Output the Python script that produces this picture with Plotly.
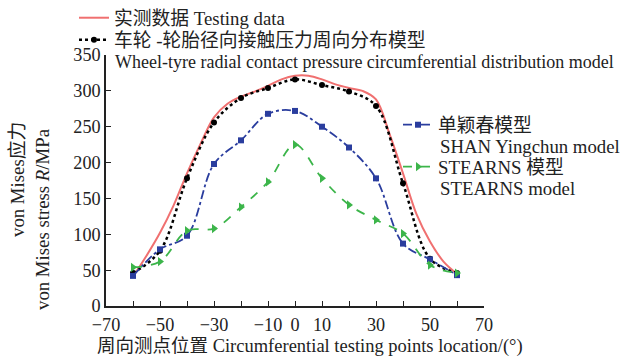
import plotly.graph_objects as go

# ---- data ----
pts_x = [-60, -50, -40, -30, -20, -10, 0, 10, 20, 30, 40, 50, 60]
model_y = [46, 77, 178, 256, 290, 304, 316, 308, 299, 279, 171, 66, 46]
shan_y = [42, 79, 98, 198, 231, 268, 272, 250, 221, 178, 87, 65, 43]
stearns_y = [54, 62, 105, 108, 138, 173, 225, 178, 141, 120, 101, 57, 46]

test_x = [-60, -55, -50, -45, -40, -35, -30, -25, -20, -15, -10, -5, 0, 5, 10, 15, 20, 25, 30, 35, 40, 45, 50, 55, 60]
test_y = [41, 70, 102, 140, 185, 226, 263, 282, 292, 299, 307, 316, 321, 321, 316, 309, 304, 300, 288, 240, 185, 128, 90, 62, 45]

x_tickvals = list(range(-70, 71, 10))
x_labeled = [-70, -50, -30, -10, 0, 10, 30, 50, 70]
x_ticktext = [str(v).replace("-", "\u2212") if v in x_labeled else "" for v in x_tickvals]
y_tickvals = list(range(0, 351, 50))

names = ["实测数据 Testing data", "车轮 -轮胎径向接触压力周向分布模型", "单颖春模型", "STEARNS 模型"]
second_lines = ["Wheel-tyre radial contact pressure circumferential distribution model",
                "SHAN Yingchun model", "STEARNS model"]

# ---- layout geometry (pixels) ----
W, H = 633, 358
L, R, T, B = 106, 484, 55, 306


def px(xp):
    return (xp - L) / (R - L)


def py(yp):
    return (B - yp) / (B - T)


FONT = "Liberation Serif, Times New Roman, Noto Sans CJK SC, serif"
FS = 18.8
TFS = 18.2
C = "#222"

fig = go.Figure()

fig.add_trace(go.Scatter(
    x=test_x, y=test_y, mode="lines", line=dict(color="#f07070", width=2, shape="spline"),
    name=names[0], legend="legend"))
fig.add_trace(go.Scatter(
    x=pts_x, y=model_y, mode="lines+markers",
    line=dict(color="black", width=2.5, dash="dot", shape="spline"),
    marker=dict(symbol="circle", size=6, color="black"),
    name=names[1], legend="legend2"))
fig.add_trace(go.Scatter(
    x=pts_x, y=shan_y, mode="lines+markers",
    line=dict(color="#2a3d9e", width=1.8, dash="dashdot", shape="spline"),
    marker=dict(symbol="square", size=6, color="#2a3d9e"),
    name=names[2], legend="legend3"))
fig.add_trace(go.Scatter(
    x=pts_x, y=stearns_y, mode="lines+markers",
    line=dict(color="#3cb54a", width=1.8, dash="dash", shape="spline"),
    marker=dict(symbol="triangle-right", size=8, color="#3cb54a"),
    name=names[3], legend="legend4"))

axis_common = dict(
    showline=True, linecolor=C, linewidth=1.5, ticks="inside", ticklen=5,
    tickcolor=C, tickwidth=1.2, showgrid=False, zeroline=False,
    tickfont=dict(family=FONT, size=TFS, color=C), mirror=False, automargin=False,
)


def leg(xp, yp):
    return dict(x=px(xp), y=py(yp), xanchor="left", yanchor="middle", bgcolor="rgba(0,0,0,0)",
                font=dict(family=FONT, size=FS, color=C), itemwidth=30, borderwidth=0)


fig.update_layout(
    width=W, height=H,
    margin=dict(l=L, r=W - R, t=T, b=H - B, pad=0, autoexpand=False),
    paper_bgcolor="white", plot_bgcolor="white",
    font=dict(family=FONT, size=FS, color=C),
    xaxis=dict(range=[-70, 70], tickmode="array", tickvals=x_tickvals, ticktext=x_ticktext,
               ticklabelstandoff=1, **axis_common),
    yaxis=dict(range=[0, 350], tickmode="array", tickvals=y_tickvals, **axis_common),
    legend=leg(74, 18),
    legend2=leg(74, 40),
    legend3=leg(398, 125),
    legend4=leg(398, 167),
    showlegend=True,
)

for txt, (xp, yp), fs in zip(second_lines, [(113, 62), (438, 146), (438, 188)], [18.0, FS, FS]):
    fig.add_annotation(text=txt, xref="paper", yref="paper", x=px(xp), y=py(yp),
                       showarrow=False, xanchor="left", yanchor="middle",
                       font=dict(family=FONT, size=fs, color=C))

fig.add_annotation(text="von Mises应力", xref="paper", yref="paper", x=px(17), y=py(180),
                   textangle=-90, showarrow=False, xanchor="center", yanchor="middle",
                   font=dict(family=FONT, size=FS, color=C))
fig.add_annotation(text="von Mises stress <i>R</i>/MPa", xref="paper", yref="paper", x=px(42), y=py(219),
                   textangle=-90, showarrow=False, xanchor="center", yanchor="middle",
                   font=dict(family=FONT, size=FS, color=C))
fig.add_annotation(text="周向测点位置 Circumferential testing points location/(°)", xref="paper", yref="paper",
                   x=px(310), y=py(346.5), showarrow=False, xanchor="center", yanchor="middle",
                   font=dict(family=FONT, size=18.5, color=C))

fig.write_html("out.html")
